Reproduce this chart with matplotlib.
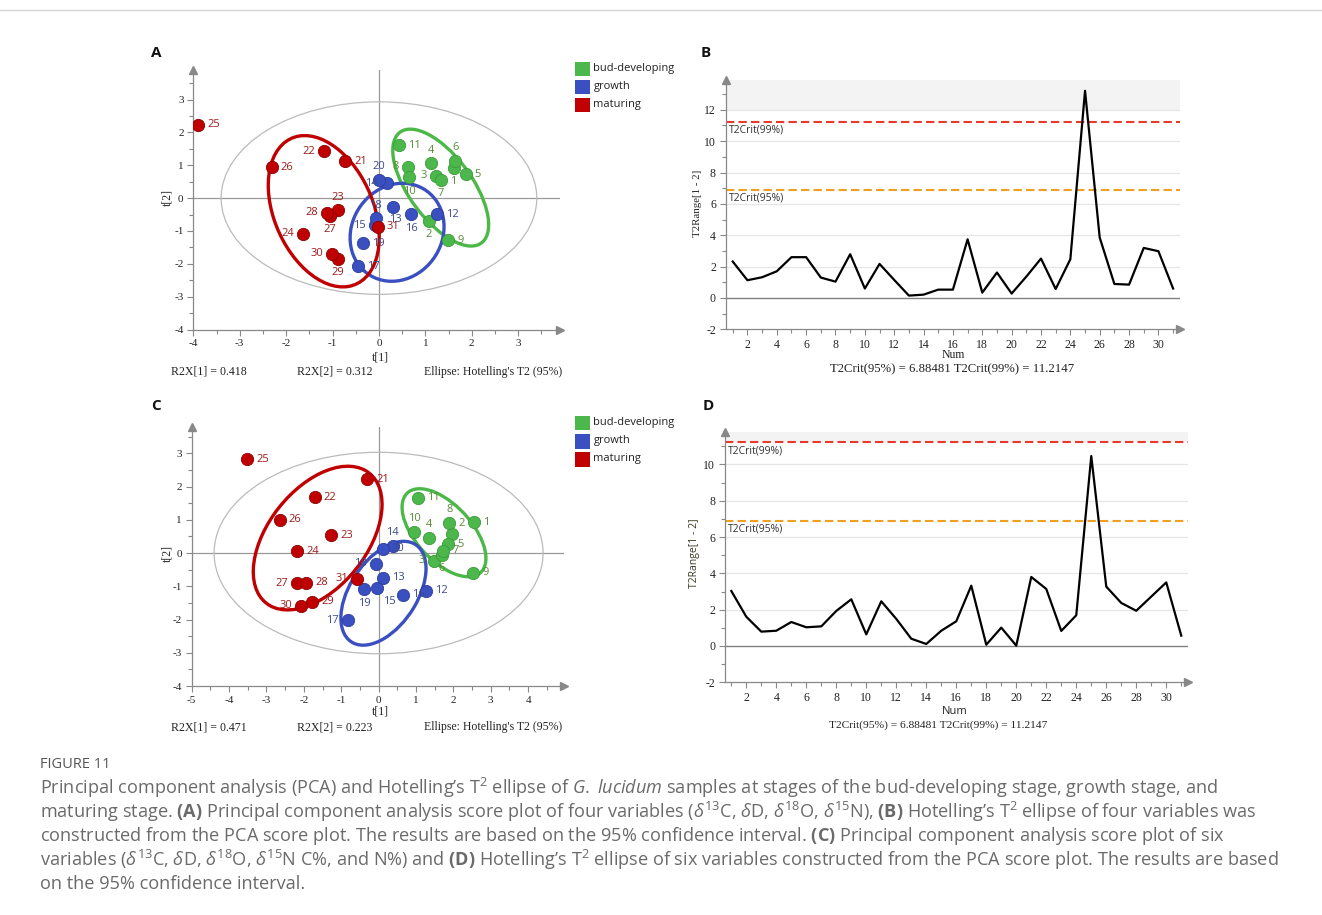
import matplotlib.pyplot as plt
from matplotlib.patches import Ellipse, Rectangle
from matplotlib.lines import Line2D
from matplotlib.ticker import MultipleLocator

plt.rcParams['font.family'] = ['Open Sans', 'DejaVu Sans']
plt.rcParams['axes.unicode_minus'] = False
plt.rcParams['mathtext.fontset'] = 'custom'
plt.rcParams['mathtext.rm'] = 'Open Sans'
plt.rcParams['mathtext.it'] = 'Open Sans:italic'
plt.rcParams['mathtext.bf'] = 'Open Sans:bold'

W, H = 1322, 915
SERIF = 'Liberation Serif'

groups = ["bud-developing", "growth", "maturing"]
# samples 1-11 bud-developing, 12-20 growth, 21-31 maturing
sample_group = [0] * 11 + [1] * 9 + [2] * 11
samples = list(range(1, 32))

# PCA scores, four variables (A)
a_t1 = [1.61, 1.07, 1.22, 1.13, 1.87, 1.64, 1.33, 0.63, 1.49, 0.65, 0.44,
        1.26, 0.30, 0.17, -0.09, 0.70, -0.45, -0.07, -0.34, -0.01,
        -0.73, -1.19, -0.88, -1.63, -3.90, -2.31, -1.06, -1.11, -0.88, -1.01, -0.03]
a_t2 = [0.93, -0.69, 0.68, 1.06, 0.73, 1.13, 0.55, 0.96, -1.29, 0.63, 1.61,
        -0.49, -0.27, 0.45, -0.82, -0.49, -2.08, -0.62, -1.37, 0.55,
        1.12, 1.42, -0.37, -1.09, 2.24, 0.94, -0.54, -0.44, -1.85, -1.70, -0.87]
# PCA scores, six variables (C)
c_t1 = [2.56, 1.97, 1.47, 1.36, 1.87, 1.69, 1.73, 1.89, 2.53, 0.96, 1.05,
        1.27, 0.11, 0.38, -0.05, 0.64, -0.83, -0.07, -0.38, 0.11,
        -0.30, -1.71, -1.27, -2.18, -3.52, -2.65, -2.18, -1.94, -1.77, -2.08, -0.57]
c_t2 = [0.92, 0.56, -0.23, 0.46, 0.27, -0.06, 0.07, 0.91, -0.59, 0.64, 1.66,
        -1.13, -0.75, 0.22, -1.04, -1.26, -2.02, -0.32, -1.09, 0.13,
        2.22, 1.68, 0.54, 0.05, 2.82, 1.00, -0.91, -0.89, -1.47, -1.58, -0.77]

# group ellipses: centre x, centre y, semi-axis a, semi-axis b, angle (deg)
a_ellipses = [(1.33, 0.32, 1.92, 0.74, 114), (0.39, -1.04, 1.0, 1.5, -8), (-1.19, -0.40, 2.35, 1.1, 103)]
c_ellipses = [(1.75, 0.61, 1.55, 0.78, 127), (0.13, -1.21, 1.7, 0.92, 62), (-1.63, 0.45, 2.4, 1.37, 58)]
a_hotelling = (3.4, 2.93)
c_hotelling = (4.4, 3.03)
a_r2x = ["R2X[1] = 0.418", "R2X[2] = 0.312"]
c_r2x = ["R2X[1] = 0.471", "R2X[2] = 0.223"]

# Hotelling T2 range values (B, D)
b_t2 = [2.32, 1.13, 1.32, 1.70, 2.60, 2.60, 1.30, 1.04, 2.79, 0.60, 2.17, 1.15, 0.15, 0.21, 0.53, 0.53,
        3.74, 0.34, 1.62, 0.28, 1.36, 2.51, 0.57, 2.47, 13.21, 3.85, 0.89, 0.85, 3.19, 2.98, 0.60]
d_t2 = [3.03, 1.61, 0.79, 0.84, 1.32, 1.03, 1.08, 1.93, 2.57, 0.64, 2.46, 1.49, 0.40, 0.11, 0.84, 1.36,
        3.32, 0.07, 1.01, 0.02, 3.80, 3.14, 0.83, 1.69, 10.46, 3.27, 2.37, 1.94, 2.72, 3.50, 0.57]
t2crit95 = 6.88481
t2crit99 = 11.2147

dot_colors = ["#4cb84c", "#3a4fc0", "#c00000"]
edge_colors = ["#3a9a3a", "#2c3c9c", "#8c0000"]
text_colors = ["#5a8a3a", "#3d4a8e", "#9e1b1b"]
ell_colors = ["#4cb848", "#3a4fc0", "#c00000"]
AX_GRAY = "#888888"

R, L, U, D = (6.5, 0, 'left'), (-6.5, 0, 'right'), (0, 9.5, 'center'), (0, -10, 'center')
a_lab = [D, D, L, U, R, U, D, L, R, D, R,
         R, (2, -9, 'center'), L, L, D, R, U, R, U,
         R, L, U, L, R, R, D, L, D, L, R]
c_lab = [R, (7, 8, 'center'), L, U, R, D, R, U, R, U, R,
         R, R, U, (9, -10, 'center'), R, L, L, D, R,
         R, R, R, R, R, R, L, R, R, L, L]


def fx(px):
    return px / W


def fy(py):
    return 1 - py / H


def arrows(ax):
    ax.plot(0, 1, '^', color=AX_GRAY, ms=6, transform=ax.transAxes, clip_on=False)
    ax.plot(1, 0, '>', color=AX_GRAY, ms=6, transform=ax.transAxes, clip_on=False)


def style_axes(ax, labelsize=8):
    for s in ['top', 'right']:
        ax.spines[s].set_visible(False)
    for s in ['left', 'bottom']:
        ax.spines[s].set_color(AX_GRAY)
        ax.spines[s].set_linewidth(0.9)
    ax.tick_params(which='both', colors=AX_GRAY, labelcolor='#222222', labelsize=labelsize, width=0.8)
    ax.tick_params(which='major', length=4, pad=3)
    ax.tick_params(which='minor', length=3)
    for lab in ax.get_xticklabels() + ax.get_yticklabels():
        lab.set_fontfamily(SERIF)
    arrows(ax)


def score_plot(rect, t1, t2, labs, ells, hot, xlim, ylim):
    ax = fig.add_axes(rect)
    ax.set_xlim(*xlim)
    ax.set_ylim(*ylim)
    ax.set_xticks(range(int(xlim[0]), int(xlim[1]) + 1))
    ax.set_yticks(range(int(ylim[0]), int(ylim[1]) + 1))
    ax.xaxis.set_minor_locator(MultipleLocator(0.5))
    ax.yaxis.set_minor_locator(MultipleLocator(0.5))
    ax.axhline(0, color="#999999", lw=0.9, zorder=1)
    ax.axvline(0, color="#999999", lw=0.9, zorder=1)
    ax.add_patch(Ellipse((0, 0), 2 * hot[0], 2 * hot[1], fill=False, ec="#bbbbbb", lw=0.9, zorder=1))
    for g, (cx, cy, ea, eb, ang) in enumerate(ells):
        ax.add_patch(Ellipse((cx, cy), 2 * ea, 2 * eb, angle=ang, fill=False,
                             ec=ell_colors[g], lw=2.4, zorder=2))
    for i, s in enumerate(samples):
        g = sample_group[i]
        ax.scatter(t1[i], t2[i], s=78, color=dot_colors[g], edgecolors=edge_colors[g],
                   linewidths=0.6, zorder=4)
        dx, dy, ha = labs[i]
        ax.annotate(str(s), (t1[i], t2[i]), xytext=(dx, dy), textcoords='offset points',
                    ha=ha, va='center', fontsize=8, color=text_colors[g], zorder=5)
    style_axes(ax)
    return ax


def t2_plot(rect, vals, top, band_lo, xmin):
    ax = fig.add_axes(rect)
    ax.set_xlim(xmin, 31.47)
    ax.set_ylim(-2, top)
    ax.axhspan(band_lo, top, color="#f3f3f3", lw=0, zorder=0)
    for yv in range(2, int(top) + 1, 2):
        ax.axhline(yv, color="#e6e6e6", lw=0.9, zorder=1)
    ax.axhline(0, color="#808080", lw=1.0, zorder=1)
    ax.axhline(t2crit99, color="#e83a2a", lw=1.5, ls=(0, (4, 2)), zorder=2)
    ax.axhline(t2crit95, color="#f0a020", lw=1.5, ls=(0, (4, 2)), zorder=2)
    ax.plot(samples, vals, color="black", lw=1.6, zorder=3)
    ax.set_xticks(range(2, 31, 2))
    ax.xaxis.set_minor_locator(MultipleLocator(1))
    ax.set_yticks(range(-2, int(top) + 1, 2))
    ax.yaxis.set_minor_locator(MultipleLocator(1))
    for val, name in [(t2crit99, "T2Crit(99%)"), (t2crit95, "T2Crit(95%)")]:
        ax.annotate(name, (0, val), xycoords=ax.get_yaxis_transform(), xytext=(2, -2),
                    textcoords='offset points', ha='left', va='top', fontsize=7.5, color="#333333")
    style_axes(ax, labelsize=8.5)
    return ax


fig = plt.figure(figsize=(W / 100, H / 100), dpi=100)

fig.add_artist(Line2D([0, 1], [fy(10), fy(10)], transform=fig.transFigure, color="#d6d6d6", lw=1))

axA = score_plot([fx(193.3), fy(329.5), fx(560) - fx(193.3), fy(70) - fy(329.5)],
                 a_t1, a_t2, a_lab, a_ellipses, a_hotelling, (-4, 3.9), (-4, 3.9))
axC = score_plot([fx(191.7), fy(686), fx(564) - fx(191.7), fy(426.7) - fy(686)],
                 c_t1, c_t2, c_lab, c_ellipses, c_hotelling, (-5, 4.96), (-4, 3.8))

axB = t2_plot([fx(725.7), fy(329.3), fx(1180) - fx(725.7), fy(80) - fy(329.3)], b_t2, 13.9, 12, 0.52)
axD = t2_plot([fx(725), fy(682.3), fx(1188.3) - fx(725), fy(431.7) - fy(682.3)], d_t2, 11.8, t2crit99, 0.58)

# panel letters
for txt, px, py in [("A", 156, 53), ("B", 706, 53), ("C", 156, 406), ("D", 708, 406)]:
    fig.text(fx(px), fy(py), txt, fontsize=11, fontweight='bold', ha='center', va='center', color="#111111")

# legends
for ly in [61.7, 416]:
    for g, name in enumerate(groups):
        y0 = ly + g * 18
        fig.add_artist(Rectangle((fx(575), fy(y0 + 14.5)), fx(15), 14.5 / H, transform=fig.transFigure,
                                 color=dot_colors[g], lw=0))
        fig.text(fx(593.5), fy(y0 + 7), name, fontsize=8, ha='left', va='center', color="#222222")

# score plot axis labels and footers
for py_t1, py_t2, py_foot, r2x in [(357, 198, 372, a_r2x), (712, 553, 727, c_r2x)]:
    fig.text(fx(380), fy(py_t1), "t[1]", fontsize=8.5, family=SERIF, ha='center', va='center', color="#222222")
    fig.text(fx(167), fy(py_t2), "t[2]", fontsize=8.5, family=SERIF, ha='center', va='center',
             rotation=90, color="#222222")
    fig.text(fx(171), fy(py_foot), r2x[0], fontsize=8.6, family=SERIF, ha='left', va='center', color="#222222")
    fig.text(fx(297), fy(py_foot), r2x[1], fontsize=8.6, family=SERIF, ha='left', va='center', color="#222222")
    fig.text(fx(424), fy(py_foot), "Ellipse: Hotelling's T2 (95%)", fontsize=8.5, family=SERIF,
             ha='left', va='center', color="#222222")

# T2 plot axis labels and footers
footer = "T2Crit(95%) = 6.88481 T2Crit(99%) = 11.2147"
fig.text(fx(953), fy(355), "Num", fontsize=8.5, family=SERIF, ha='center', va='center', color="#222222")
fig.text(fx(952), fy(369), footer, fontsize=9.2, family=SERIF, ha='center', va='center', color="#222222")
fig.text(fx(697), fy(203), "T2Range[1 - 2]", fontsize=7.8, family=SERIF, ha='center', va='center',
         rotation=90, color="#222222")
fig.text(fx(955), fy(711), "Num", fontsize=8, ha='center', va='center', color="#222222")
fig.text(fx(938), fy(725), footer, fontsize=8.2, family=SERIF, ha='center', va='center', color="#222222")
fig.text(fx(694), fy(553), "T2Range[1 - 2]", fontsize=7.5, ha='center', va='center',
         rotation=90, color="#3a3a20")

# caption
cap_color = "#6a6a6a"
fig.text(fx(40), fy(765), "FIGURE 11", fontsize=10.5, ha='left', va='center', color="#555555")
caption = [
    r"Principal component analysis (PCA) and Hotelling’s T$^2$ ellipse of $\mathit{G.}$ $\mathit{lucidum}$ samples at stages of the bud-developing stage, growth stage, and",
    r"maturing stage. $\mathbf{(A)}$ Principal component analysis score plot of four variables ($\delta^{13}$C, $\delta$D, $\delta^{18}$O, $\delta^{15}$N), $\mathbf{(B)}$ Hotelling’s T$^2$ ellipse of four variables was",
    r"constructed from the PCA score plot. The results are based on the 95% confidence interval. $\mathbf{(C)}$ Principal component analysis score plot of six",
    r"variables ($\delta^{13}$C, $\delta$D, $\delta^{18}$O, $\delta^{15}$N C%, and N%) and $\mathbf{(D)}$ Hotelling’s T$^2$ ellipse of six variables constructed from the PCA score plot. The results are based",
    r"on the 95% confidence interval.",
]
for k, line in enumerate(caption):
    fig.text(fx(40), fy(788 + 24 * k), line, fontsize=13.1, ha='left', va='center', color=cap_color)

fig.savefig("out.png", dpi=100)
